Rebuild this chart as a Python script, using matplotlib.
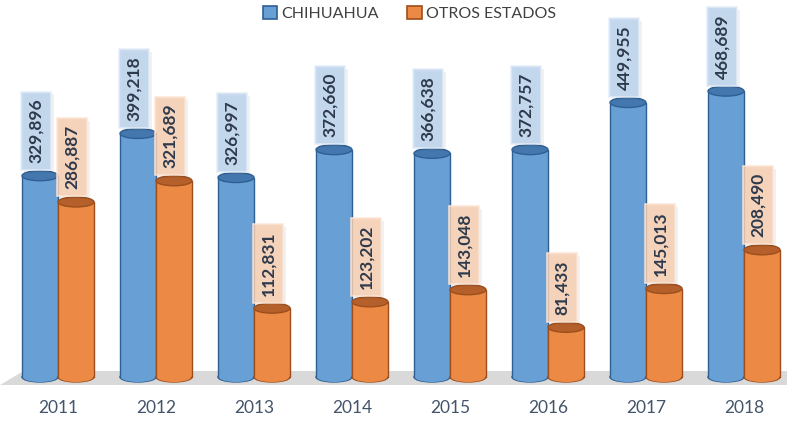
import matplotlib
matplotlib.use("Agg")
import matplotlib.pyplot as plt
from matplotlib.patches import Ellipse, Patch, Polygon
import matplotlib.patheffects as pe

# data
years = ["2011", "2012", "2013", "2014", "2015", "2016", "2017", "2018"]
chihuahua = [329896, 399218, 326997, 372660, 366638, 372757, 449955, 468689]
otros = [286887, 321689, 112831, 123202, 143048, 81433, 145013, 208490]
series_names = ["CHIHUAHUA", "OTROS ESTADOS"]

W, H = 787, 422
plt.rcParams["font.family"] = ["Lato", "DejaVu Sans"]

fig = plt.figure(figsize=(W / 100, H / 100), dpi=100)
ax = fig.add_axes([0, 0, 1, 1])

# pixel layout of the reference: group i centred at 58 + 98*i px, baseline at 377 px
GROUP_PX, X0_PX = 98, 58
BASE_PX, PX_PER_UNIT = 377, 0.00061
ax.set_xlim(-X0_PX / GROUP_PX, (W - X0_PX) / GROUP_PX)
ax.set_ylim((BASE_PX - H) / PX_PER_UNIT, BASE_PX / PX_PER_UNIT)
ax.axis("off")

def px_y(p):   # vertical pixels -> data units
    return p / PX_PER_UNIT

def px_x(p):
    return p / GROUP_PX

bar_w = px_x(36)
ell_h = px_y(10)

# grey floor
floor = Polygon([[0, (H - 385) / H], [0.03, (H - 371) / H], [1, (H - 371) / H], [1, (H - 385) / H]],
                closed=True, transform=ax.transAxes, fc="#d9d9d9", ec="none", zorder=1)
ax.add_patch(floor)

styles = [
    dict(body="#689fd5", edge="#2f5f93", top="#4377ad", box="#bcd3ec", boxedge="#e4edf7", off=-0.5),
    dict(body="#ec8a45", edge="#9c4e1c", top="#b5602b", box="#f6cdb1", boxedge="#fbe5d6", off=0.5),
]

for k, vals in enumerate([chihuahua, otros]):
    st = styles[k]
    xs = [i + st["off"] * bar_w for i in range(len(years))]
    z = 2 + k * 3
    ax.bar(xs, vals, width=bar_w, color=st["body"], edgecolor=st["edge"], linewidth=1.0, zorder=z)
    for x, v in zip(xs, vals):
        ax.add_patch(Ellipse((x, 0), bar_w, ell_h, fc=st["body"], ec=st["edge"], lw=1.0, zorder=z - 0.5))
        ax.add_patch(Ellipse((x, 0), bar_w - px_x(2), ell_h, fc=st["body"], ec="none", zorder=z + 0.1))
        ax.add_patch(Ellipse((x, v), bar_w, ell_h, fc=st["top"], ec=st["edge"], lw=1.0, zorder=z + 0.2))
        t = ax.text(x - px_x(4), v + px_y(12.5), f"{v:,}", rotation=90, ha="center", va="bottom",
                    fontsize=12.5, fontweight="bold", color="#2e3a4c", zorder=z + 0.4,
                    bbox=dict(boxstyle="square,pad=0.4", fc=st["box"], ec=st["boxedge"], lw=1.2, alpha=0.85))
        t.get_bbox_patch().set_path_effects([pe.SimplePatchShadow(offset=(2, -2), alpha=0.07), pe.Normal()])

# year labels
for i, yr in enumerate(years):
    ax.text(i, px_y(BASE_PX - 408), yr, ha="center", va="center", fontsize=12.5, color="#44546a")

handles = [Patch(fc=styles[0]["body"], ec=styles[0]["edge"], lw=1.2),
           Patch(fc=styles[1]["body"], ec=styles[1]["edge"], lw=1.2)]
ax.legend(handles, series_names, loc="upper center", bbox_to_anchor=(0.52, 1.02), ncol=2, frameon=False,
          fontsize=11.5, handlelength=0.9, handleheight=0.9, handletextpad=0.25, columnspacing=1.8,
          labelcolor="#404040")

fig.savefig("out.png", dpi=100, facecolor="white")
